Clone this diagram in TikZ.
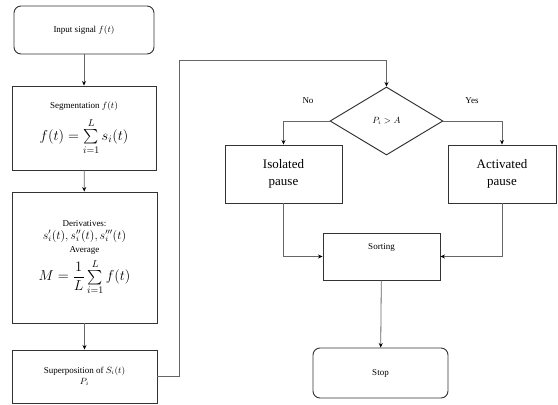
\documentclass[tikz,border=0pt]{standalone}
\usepackage{amsmath}
\usepackage{fontspec}
\setmainfont{Liberation Serif}
\usetikzlibrary{arrows.meta,shapes.geometric}

\tikzset{
  box/.style={draw=black!80, line width=0.95pt, minimum width=#1, inner sep=1pt, align=center},
  roundbox/.style={box=#1, rounded corners=7pt},
  decision/.style={draw=black!80, line width=0.95pt, diamond, inner sep=0pt, minimum width=113pt, minimum height=68pt},
  link/.style={draw=black!60, line width=0.8pt},
  arr/.style={link, -{Stealth[length=4.5pt,width=4pt,color=black]}},
  small/.style={font=\fontsize{9}{11}\selectfont},
  big/.style={font=\fontsize{13}{17}\selectfont}
}

\begin{document}
\begin{tikzpicture}[x=1pt, y=-1pt]
\useasboundingbox (0,0) rectangle (558,405);
% left column
\node[roundbox=140pt, minimum height=48pt, small] (input) at (84,30) {Input signal $f(t)$};
\node[box=144pt, minimum height=84pt, small] (seg) at (84,128)
  {Segmentation $f(t)$\\[7pt] {\Large $f(t)=\sum\limits_{i=1}^{L} s_i(t)$}};
\node[box=145pt, minimum height=131pt, small] (deriv) at (84.5,257.5)
  {Derivatives:\\[2pt] {\large $s_i'(t), s_i''(t), s_i'''(t)$}\\[2pt] Average\\[4pt] {\Large $M=\dfrac{1}{L}\sum\limits_{i=1}^{L} f(t)$}};
\node[box=145pt, minimum height=53pt, small] (super) at (84.5,376.5) {Superposition of $S_i(t)$\\ $P_i$};
% right part
\node[decision, small] (dec) at (386.5,121) {$P_i > A$};
\node[box=117pt, minimum height=58pt, big] (iso) at (283.5,174) {Isolated\\ pause};
\node[box=108pt, minimum height=58pt, big] (act) at (502,174) {Activated\\ pause};
\node[box=117pt, minimum height=47pt, small] (sort) at (381.5,256.5) {Sorting\\[8pt]};
\node[roundbox=135pt, minimum height=50pt, small] (stop) at (380.5,373) {Stop};
\coordinate (turn) at (179,60);
\node[small] (no) at (308,101) {No};
\node[small] (yes) at (472,101) {Yes};
% connectors
\draw[arr] (input) -- (seg);
\draw[arr] (seg) -- (deriv);
\draw[arr] (deriv) -- (super);
\draw[link] (super.east) -| (turn);
\draw[arr] (turn) -| (dec.north);
\draw[arr] (dec.west) -| (iso.north);
\draw[arr] (dec.east) -| (act.north);
\draw[arr] (iso.south) |- (sort.west);
\draw[arr] (act.south) |- (sort.east);
\draw[arr] (sort) -- (stop);
\end{tikzpicture}
\end{document}
